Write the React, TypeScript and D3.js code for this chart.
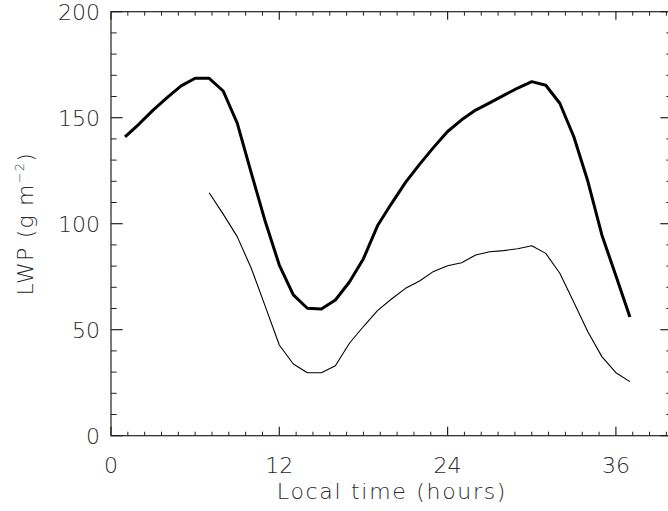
import React from "react";
import * as d3 from "d3";

const thickHours = [1,2,3,4,5,6,7,8,9,10,11,12,13,14,15,16,17,18,19,20,21,22,23,24,25,26,27,28,29,30,31,32,33,34,35,36,37];
const thickLWP = [141,147,153.6,159.5,165,168.6,168.6,162.6,147.4,124,101,80.5,66.4,60.1,59.8,64,72.5,83.5,99,109.5,119.5,128,136,143.5,149,153.6,157,160.5,164,167,165.3,156.8,141,120,94.7,75.4,56];
const thinHours = [7,8,9,10,11,12,13,14,15,16,17,18,19,20,21,22,23,24,25,26,27,28,29,30,31,32,33,34,35,36,37];
const thinLWP = [114.6,104.5,93.9,79,61,42.8,33.8,29.7,29.7,33,43.6,51.5,59,64.5,69.5,73,77.5,80.2,81.6,85.2,86.8,87.3,88.2,89.6,86,76.6,63,49,37.3,29.7,25.5];
const xMajorTicks = [0, 12, 24, 36];
const yMajorTicks = [0, 50, 100, 150, 200];
const xTitle = "Local time (hours)";

const W = 668, H = 511;
const L = 111, R = 672, T = 11.7, B = 435.7;
const FONT = "'DejaVu Sans', sans-serif";
const TXT = "#2a2a2a";

export default function App() {
  const x = d3.scaleLinear().domain([0, 40]).range([L, R]);
  const y = d3.scaleLinear().domain([0, 200]).range([B, T]);
  const xMinor = d3.range(0, 40.001, 1.2).filter(v => Math.abs(v / 12 - Math.round(v / 12)) > 1e-6);
  const yMinor = d3.range(0, 201, 10).filter(v => v % 50 !== 0);
  const lineThick = d3.line<number>().x((_, i) => x(thickHours[i])).y(d => y(d));
  const lineThin = d3.line<number>().x((_, i) => x(thinHours[i])).y(d => y(d));
  const ax = "#222";
  return (
    <svg width={W} height={H} style={{ position: "fixed", left: 0, top: 0, background: "#fff" }}>
      <rect x={0} y={0} width={W} height={H} fill="#fff" />
      <rect x={L} y={T} width={R - L} height={B - T} fill="none" stroke={ax} strokeWidth={1.2} />
      {xMajorTicks.map(v => (
        <g key={"xM" + v}>
          <line x1={x(v)} x2={x(v)} y1={B} y2={B - 9} stroke={ax} strokeWidth={1.2} />
          <line x1={x(v)} x2={x(v)} y1={T} y2={T + 8} stroke={ax} strokeWidth={1.2} />
          <text x={x(v)} y={473} textAnchor="middle" fontFamily={FONT} fontWeight={200} fontSize={22} fill={TXT}>{v}</text>
        </g>
      ))}
      {xMinor.map(v => (
        <g key={"xm" + v}>
          <line x1={x(v)} x2={x(v)} y1={B} y2={B - 4} stroke={ax} strokeWidth={1} />
          <line x1={x(v)} x2={x(v)} y1={T} y2={T + 4} stroke={ax} strokeWidth={1} />
        </g>
      ))}
      {yMajorTicks.map(v => (
        <g key={"yM" + v}>
          <line x1={L} x2={L + 11.7} y1={y(v)} y2={y(v)} stroke={ax} strokeWidth={1.2} />
          <line x1={R} x2={R - 11.7} y1={y(v)} y2={y(v)} stroke={ax} strokeWidth={1.2} />
          <text x={100} y={y(v) + 8} textAnchor="end" fontFamily={FONT} fontWeight={200} fontSize={22} fill={TXT}>{v}</text>
        </g>
      ))}
      {yMinor.map(v => (
        <g key={"ym" + v}>
          <line x1={L} x2={L + 5.7} y1={y(v)} y2={y(v)} stroke={ax} strokeWidth={1} />
          <line x1={R} x2={R - 5.7} y1={y(v)} y2={y(v)} stroke={ax} strokeWidth={1} />
        </g>
      ))}
      <path d={lineThick(thickLWP) || ""} fill="none" stroke="#000" strokeWidth={3} strokeLinejoin="round" />
      <path d={lineThin(thinLWP) || ""} fill="none" stroke="#000" strokeWidth={1.1} strokeLinejoin="round" />
      <text x={(L + 667) / 2 + 3} y={499} textAnchor="middle" fontFamily={FONT} fontWeight={200} fontSize={22} letterSpacing={1.7} fill={TXT}>{xTitle}</text>
      <text transform={`translate(33,${(T + B) / 2}) rotate(-90)`} textAnchor="middle" fontFamily={FONT} fontWeight={200} fontSize={22} letterSpacing={1.2} fill={TXT}>
        LWP (g m<tspan fontSize={13} dy={-9}>−2</tspan><tspan dy={9}>)</tspan>
      </text>
    </svg>
  );
}
